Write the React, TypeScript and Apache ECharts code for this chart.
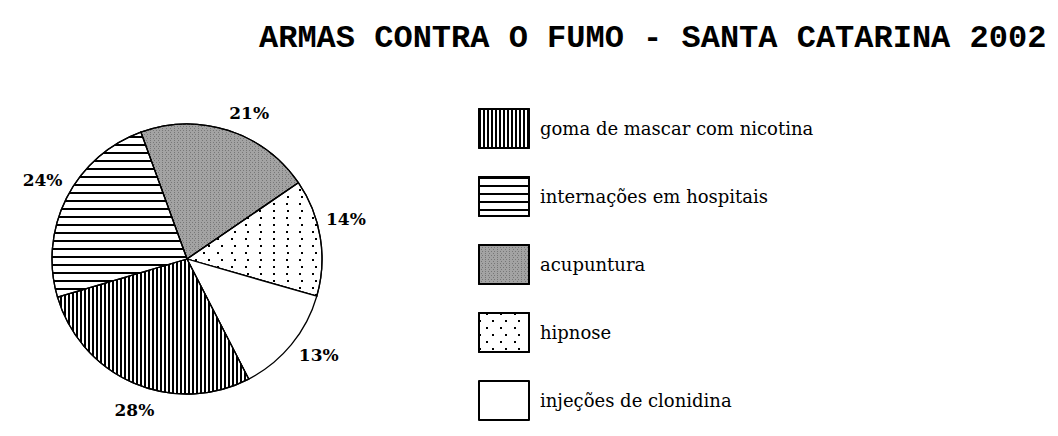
import React, { useEffect, useRef } from "react";
import * as echarts from "echarts";

const titleText = "ARMAS CONTRA O FUMO - SANTA CATARINA 2002";
const categories = [
  "goma de mascar com nicotina",
  "internações em hospitais",
  "acupuntura",
  "hipnose",
  "injeções de clonidina",
];
const values = [28, 24, 21, 14, 13];
// order in which slices are drawn clockwise, starting at the top-left
const sliceOrder = [2, 3, 4, 0, 1];

const fills: any[] = [
  {
    color: "#ffffff",
    decal: { symbol: "rect", symbolSize: 1, color: "#000", dashArrayX: [2, 2], dashArrayY: [1, 0] },
  },
  {
    color: "#ffffff",
    decal: { symbol: "rect", symbolSize: 1, color: "#000", dashArrayX: [1, 0], dashArrayY: [1.4, 5.6] },
  },
  {
    color: "#a3a3a3",
    decal: {
      symbol: "rect",
      symbolSize: 1,
      color: "#777777",
      dashArrayX: [[1, 2], [0, 1.5, 1, 0.5]],
      dashArrayY: [1, 1],
    },
  },
  {
    color: "#ffffff",
    decal: {
      symbol: "rect",
      symbolSize: 1,
      color: "#000",
      dashArrayX: [[1.5, 11], [0, 6.25, 1.5, 4.75]],
      dashArrayY: [1.5, 5],
    },
  },
  { color: "#ffffff" },
];

// small nudges of the percentage labels, as placed in the original
const labelNudges: number[][] = [
  [12, 0],
  [2, -5],
  [12, 10],
  [-3, -14],
  [5, -8],
];

export default function App() {
  const ref = useRef<HTMLDivElement>(null);
  useEffect(() => {
    if (!ref.current) return;
    const chart = echarts.init(ref.current, null, { renderer: "svg" });
    const pieData = sliceOrder.map((i) => ({
      name: categories[i],
      value: values[i],
      itemStyle: fills[i],
    }));
    chart.setOption({
      animation: false,
      backgroundColor: "#ffffff",
      title: {
        text: titleText,
        left: 259,
        top: 22,
        padding: 0,
        textStyle: {
          fontFamily: "Liberation Mono",
          fontWeight: "bold",
          fontSize: 32,
          color: "#000",
        },
      },
      legend: {
        orient: "vertical",
        left: 478,
        top: 108,
        height: 330,
        padding: 0,
        itemWidth: 50,
        itemHeight: 39,
        itemGap: 27,
        icon: "rect",
        selectedMode: false,
        data: categories,
        textStyle: {
          fontFamily: "DejaVu Serif",
          fontSize: 18,
          color: "#000",
          padding: [0, 0, 0, 6],
        },
      },
      series: [
        {
          type: "pie",
          center: [187, 259],
          radius: 135,
          startAngle: 110,
          clockwise: true,
          avoidLabelOverlap: false,
          itemStyle: { borderColor: "#000", borderWidth: 1.3 },
          label: { show: false },
          labelLine: { show: false },
          emphasis: { disabled: true },
          data: pieData,
        },
        {
          type: "pie",
          center: [187, 259],
          radius: [134, 188],
          startAngle: 110,
          clockwise: true,
          silent: true,
          avoidLabelOverlap: false,
          legendHoverLink: false,
          itemStyle: { color: "rgba(0,0,0,0)", borderWidth: 0 },
          label: {
            show: true,
            position: "inside",
            formatter: "{c}%",
            fontFamily: "DejaVu Serif",
            fontWeight: "bold",
            fontSize: 17,
            color: "#000",
          },
          labelLine: { show: false },
          emphasis: { disabled: true },
          data: sliceOrder.map((i) => ({
            name: categories[i] + " ",
            value: values[i],
            label: { offset: labelNudges[i] },
          })),
        },
      ],
    });
    return () => chart.dispose();
  }, []);
  return (
    <div
      ref={ref}
      style={{ position: "fixed", left: 0, top: 0, width: 1058, height: 436, background: "#fff" }}
    />
  );
}
